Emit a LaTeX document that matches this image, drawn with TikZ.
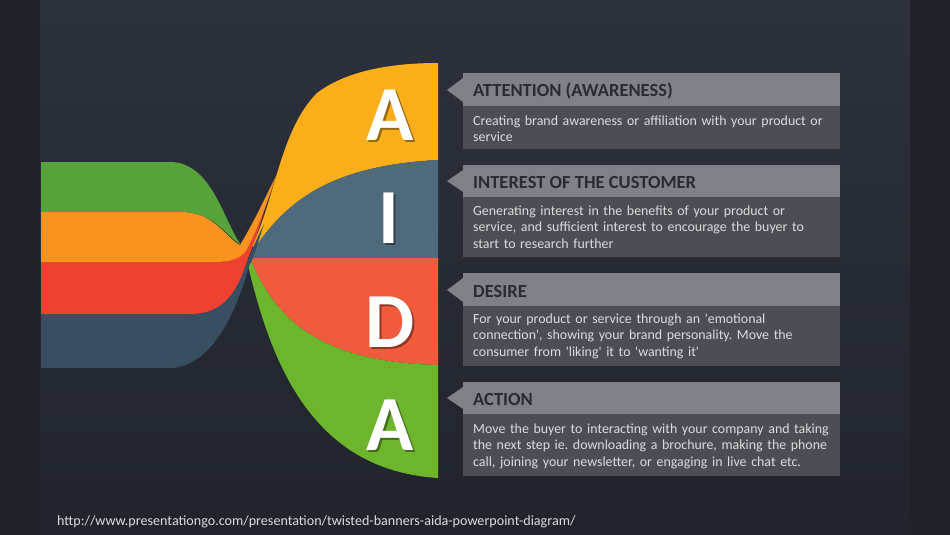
\documentclass[tikz,border=0pt]{standalone}
\usepackage{fontspec}
\setmainfont{Carlito}
\frenchspacing
\definecolor{bgside}{HTML}{1F2229}
\definecolor{bgtop}{HTML}{2C313C}
\definecolor{bgbot}{HTML}{21242C}
\definecolor{lgreen}{HTML}{55A33A}
\definecolor{lorange}{HTML}{F7931E}
\definecolor{lred}{HTML}{EE4130}
\definecolor{lslate}{HTML}{394E60}
\definecolor{ryellow}{HTML}{FAAE19}
\definecolor{rslate}{HTML}{4F6B7B}
\definecolor{rred}{HTML}{F15B3D}
\definecolor{rgreen}{HTML}{6CB52D}
\definecolor{hdrgray}{HTML}{7F8088}
\definecolor{bodygray}{HTML}{4C4E56}
\definecolor{hdrtext}{HTML}{2A2C33}
\definecolor{bodytext}{HTML}{DCDCDE}
\newcommand{\shadowed}[2]{\makebox[0pt][l]{\hspace{2pt}\raisebox{-2pt}{\textcolor{#1}{#2}}}#2}
\begin{document}
\begin{tikzpicture}[x=1pt,y=-1pt,
  hdr/.style={fill=hdrgray},
  bodybox/.style={fill=bodygray},
  htext/.style={anchor=base west,inner sep=0pt,text=hdrtext,font=\bfseries\fontsize{18.5}{21}\selectfont},
  btext/.style={anchor=base west,inner sep=0pt,text=bodytext,text width=370pt,align=left,font=\fontsize{13.9}{16.8}\selectfont},
  letter/.style={anchor=base,inner sep=0pt,text=white,font=\bfseries\fontsize{78}{78}\selectfont}]
\useasboundingbox (0,0) rectangle (950,535);
% background
\fill[bgside] (0,0) rectangle (950,535);
\shade[top color=bgtop,bottom color=bgbot] (40,0) rectangle (910,535);

% right bands
\fill[ryellow] (252,246) .. controls (275,200) and (280,130) .. (317,93)
  .. controls (350,68) and (400,63) .. (438,63) -- (438,160)
  .. controls (340,165) and (290,195) .. (255,248) -- cycle;
\fill[rslate] (255,248) .. controls (290,195) and (340,165) .. (438,160)
  -- (438,260) -- (251,260) -- cycle;
\fill[rred] (250,258) -- (438,258) -- (438,365)
  .. controls (320,362) and (275,320) .. (250,258) -- cycle;
\fill[rgreen] (250,258) .. controls (275,320) and (320,362) .. (438,365)
  -- (438,478) .. controls (310,470) and (270,360) .. (247,261) -- cycle;

% left bands
\fill[lslate] (41,314) -- (190,314) .. controls (226,314) and (238,282) .. (247,262)
  .. controls (252,250) and (257,238) .. (264,224)
  .. controls (258,242) and (254,258) .. (249,266)
  .. controls (240,300) and (215,368) .. (170,368) -- (41,368) -- cycle;
\fill[lred] (41,262) -- (215,262) .. controls (233,262) and (240,256) .. (245,250)
  .. controls (255,232) and (262,208) .. (272,184)
  .. controls (264,212) and (256,240) .. (248,258)
  .. controls (238,290) and (225,314) .. (190,314) -- (41,314) -- cycle;
\fill[lorange] (41,212) -- (182,212) .. controls (214,212) and (226,238) .. (240,245)
  .. controls (254,222) and (264,200) .. (276,176)
  .. controls (268,202) and (256,232) .. (246,251)
  .. controls (240,258) and (232,262) .. (215,262) -- (41,262) -- cycle;
\fill[lgreen] (41,162) -- (170,162) .. controls (212,162) and (224,222) .. (241,245)
  .. controls (226,236) and (214,212) .. (182,212) -- (41,212) -- cycle;

% letters
\node[letter] (A1) at (390,140) {\shadowed{ryellow!60!black}{A}};
\node[letter] (I)  at (389,243) {\shadowed{rslate!60!black}{I}};
\node[letter] (D)  at (390,347) {\shadowed{rred!60!black}{D}};
\node[letter] (A2) at (390,450) {\shadowed{rgreen!60!black}{A}};

% text boxes
\fill[hdr] (463,73) rectangle (840,106);
\fill[hdr] (463,78) -- (447,90) -- (463,102) -- cycle;
\fill[bodybox] (463,106) rectangle (840,149);
\node[htext] (h1) at (473,96) {ATTENTION (AWARENESS)};
\node[btext] (b1) at (473,125) {Creating brand awareness or affiliation with your product or\\ service};

\fill[hdr] (463,165) rectangle (840,197);
\fill[hdr] (463,170) -- (447,181) -- (463,192) -- cycle;
\fill[bodybox] (463,197) rectangle (840,257);
\node[htext] (h2) at (473,188) {INTEREST OF THE CUSTOMER};
\node[btext] (b2) at (473,215) {Generating interest in the benefits of your product or\\ service, and sufficient interest to encourage the buyer to\\ start to research further};

\fill[hdr] (463,273) rectangle (840,306);
\fill[hdr] (463,278) -- (447,290) -- (463,302) -- cycle;
\fill[bodybox] (463,306) rectangle (840,366);
\node[htext] (h3) at (473,297) {DESIRE};
\node[btext] (b3) at (473,323) {For your product or service through an \textquotesingle emotional\\ connection\textquotesingle, showing your brand personality. Move the\\ consumer from \textquotesingle liking\textquotesingle\ it to \textquotesingle wanting it\textquotesingle};

\fill[hdr] (463,382) rectangle (840,414);
\fill[hdr] (463,387) -- (447,398) -- (463,409) -- cycle;
\fill[bodybox] (463,414) rectangle (840,476);
\node[htext] (h4) at (473,405) {ACTION};
\node[btext] (b4) at (473,433) {Move the buyer to interacting with your company and taking\\ the next step ie. downloading a brochure, making the phone\\ call, joining your newsletter, or engaging in live chat etc.};

% url
\node[anchor=base west,inner sep=0pt,text=bodytext,font=\fontsize{14.1}{16}\selectfont] (url) at (57,525) {http://www.presentationgo.com/presentation/twisted-banners-aida-powerpoint-diagram/};
\end{tikzpicture}
\end{document}
